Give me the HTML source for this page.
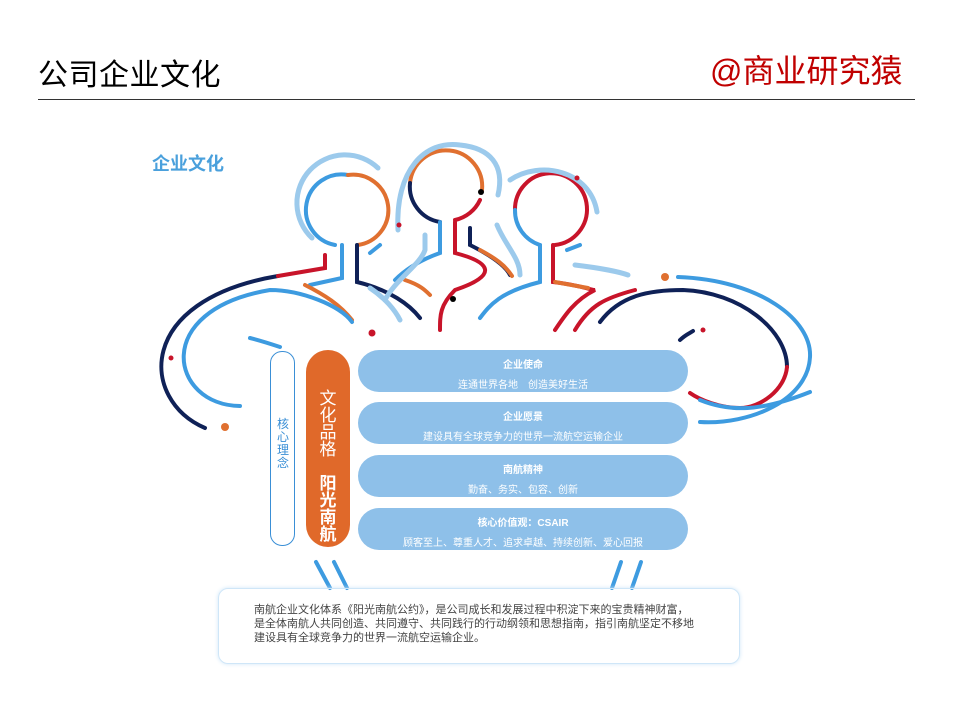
<!DOCTYPE html>
<html><head><meta charset="utf-8"><style>
body{margin:0;width:960px;height:720px;background:#fff;position:relative;overflow:hidden;font-family:"Liberation Sans","Noto Sans CJK SC",sans-serif}
.abs{position:absolute}
.pill{position:absolute;left:358px;width:330px;height:42px;border-radius:21px;background:#8ec0e9;color:#fff;text-align:center}
.pill b{display:block;font-size:10px;margin-top:6px}
.pill span{display:block;font-size:10px;margin-top:5px}
</style></head><body>
<div class="abs" style="left:38px;top:50px;font-size:30px;color:#000;font-weight:normal;letter-spacing:0.5px">公司企业文化</div>
<div class="abs" style="left:710px;top:46px;font-size:32px;color:#c00000">@商业研究猿</div>
<div class="abs" style="left:38px;top:99px;width:877px;height:1px;background:#333"></div>
<div class="abs" style="left:152px;top:150px;font-size:18px;font-weight:bold;color:#4aa0dc">企业文化</div>
<svg class="abs" style="left:0;top:0" width="960" height="720" fill="none" stroke-linecap="round" stroke-width="4">
<path d="M348,175 A35,35 0 0 0 335,245" stroke="#3d9be0"/>
<path d="M348,175 A35,35 0 0 1 358,245" stroke="#e07030"/>
<path d="M312,238 A48,48 0 0 1 378,168" stroke="#9ccaec" stroke-width="5"/>
<path d="M410,183 A36,36 0 0 1 482,190" stroke="#e07030"/>
<path d="M410,183 A36,36 0 0 0 440,222" stroke="#0f2157"/>
<path d="M480,200 A36,36 0 0 1 455,220" stroke="#c8142a"/>
<path d="M398,230 C395,170 425,140 460,145 C490,148 505,165 498,195" stroke="#9ccaec" stroke-width="5"/>
<path d="M515,210 A36,36 0 1 1 555,245" stroke="#c8142a"/>
<path d="M515,210 A36,36 0 0 0 540,245" stroke="#3d9be0"/>
<path d="M510,180 C540,160 590,170 597,212" stroke="#9ccaec" stroke-width="5"/>
<path d="M342,245 L342,278 L310,285" stroke="#3d9be0"/>
<path d="M357,245 L357,282 C390,290 410,305 420,318" stroke="#0f2157"/>
<path d="M305,285 C325,295 340,305 352,320" stroke="#e07030"/>
<path d="M440,222 L440,253 C420,260 405,270 395,280" stroke="#3d9be0"/>
<path d="M455,222 L455,253 C490,262 500,275 455,290 C440,305 440,315 440,330" stroke="#c8142a"/>
<path d="M405,280 C420,285 425,290 430,295" stroke="#e07030"/>
<path d="M470,228 L470,245 C490,255 505,265 510,275" stroke="#0f2157"/>
<path d="M480,250 C495,258 505,265 512,276" stroke="#e07030"/>
<path d="M540,245 L540,282 C500,292 490,305 480,318" stroke="#3d9be0"/>
<path d="M553,245 L553,282 C580,285 590,290 595,290 C575,300 565,315 555,330" stroke="#c8142a"/>
<path d="M555,282 L588,288" stroke="#e07030"/>
<path d="M370,288 C385,298 395,310 400,320" stroke="#9ccaec" stroke-width="5"/>
<path d="M385,300 C395,280 420,265 425,250 L425,235" stroke="#9ccaec" stroke-width="5"/>
<path d="M497,225 C505,245 520,258 520,275" stroke="#9ccaec" stroke-width="5"/>
<path d="M370,253 L380,245" stroke="#3d9be0"/>
<path d="M567,250 L580,245" stroke="#3d9be0"/>
<path d="M575,265 C600,268 620,272 628,275" stroke="#9ccaec" stroke-width="5"/>
<path d="M205,428 C140,400 135,300 278,276" stroke="#0f2157"/>
<path d="M278,276 L325,268 L325,255" stroke="#c8142a"/>
<path d="M240,406 C170,405 150,310 270,290 C300,290 340,305 352,322" stroke="#3d9be0"/>
<path d="M250,338 C258,340 265,342 280,347" stroke="#3d9be0"/>
<path d="M600,322 C620,295 650,290 683,290 C740,292 787,330 787,367" stroke="#0f2157"/>
<path d="M787,367 C785,390 760,408 740,408 C720,408 700,400 690,393" stroke="#c8142a"/>
<path d="M678,277 C760,280 812,320 810,357 C808,400 750,425 700,422" stroke="#3d9be0"/>
<path d="M680,340 C685,335 690,333 693,331" stroke="#0f2157"/>
<path d="M575,330 C590,305 605,298 635,290" stroke="#c8142a"/>
<path d="M700,400 C730,412 760,412 810,392" stroke="#3d9be0"/>
<path d="M316,562 L330,588" stroke="#3d9be0"/><path d="M334,562 L347,588" stroke="#3d9be0"/>
<path d="M621,562 L612,588" stroke="#3d9be0"/><path d="M641,562 L632,588" stroke="#3d9be0"/>
<circle cx="372" cy="333" r="3.5" fill="#c8142a" stroke="none"/>
<circle cx="399" cy="225" r="2.5" fill="#c8142a" stroke="none"/>
<circle cx="481" cy="192" r="3" fill="#000" stroke="none"/>
<circle cx="453" cy="299" r="3" fill="#000" stroke="none"/>
<circle cx="577" cy="178" r="2.5" fill="#c8142a" stroke="none"/>
<circle cx="665" cy="277" r="4" fill="#e07030" stroke="none"/>
<circle cx="703" cy="330" r="2.5" fill="#c8142a" stroke="none"/>
<circle cx="171" cy="358" r="2.5" fill="#c8142a" stroke="none"/>
<circle cx="225" cy="427" r="4" fill="#e07030" stroke="none"/>
</svg>
<div class="abs" style="left:270px;top:351px;width:23px;height:193px;border:1.5px solid #3a8fd6;border-radius:12px"></div>
<div class="abs" style="left:274px;top:418px;width:18px;font-size:12px;color:#3a8fd6;line-height:13px;text-align:center">核<br>心<br>理<br>念</div>
<div class="abs" style="left:306px;top:350px;width:44px;height:197px;background:#e0692a;border-radius:22px"></div>
<div class="abs" style="left:306px;top:390px;width:44px;font-size:17px;color:#fff;line-height:17px;text-align:center">文<br>化<br>品<br>格<br><br><b>阳<br>光<br>南<br>航</b></div>
<div class="pill" style="top:350px"><b>企业使命</b><span>连通世界各地　创造美好生活</span></div>
<div class="pill" style="top:402px"><b>企业愿景</b><span>建设具有全球竞争力的世界一流航空运输企业</span></div>
<div class="pill" style="top:455px"><b>南航精神</b><span>勤奋、务实、包容、创新</span></div>
<div class="pill" style="top:508px"><b>核心价值观：CSAIR</b><span>顾客至上、尊重人才、追求卓越、持续创新、爱心回报</span></div>
<div class="abs" style="left:218px;top:588px;width:520px;height:74px;border:1.5px solid #cfe6f8;border-radius:10px;box-shadow:0 0 4px #cfe6f8"></div>
<div class="abs" style="left:254px;top:603px;width:480px;font-size:11px;line-height:14px;color:#444;white-space:nowrap">南航企业文化体系《阳光南航公约》，是公司成长和发展过程中积淀下来的宝贵精神财富，<br>是全体南航人共同创造、共同遵守、共同践行的行动纲领和思想指南，指引南航坚定不移地<br>建设具有全球竞争力的世界一流航空运输企业。</div>
</body></html>
